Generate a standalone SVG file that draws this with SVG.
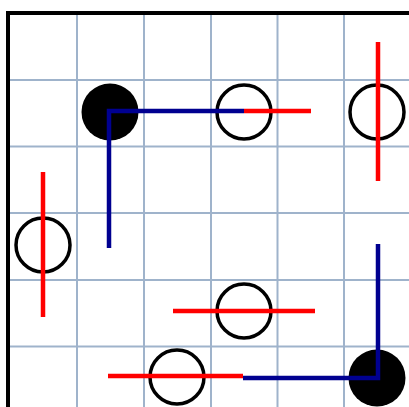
<svg xmlns="http://www.w3.org/2000/svg" width="409" height="407" viewBox="0 0 409 407">
<style>
.grid{stroke:#9fb3cb;stroke-width:2;fill:none}
.frame{stroke:#000;stroke-width:4;fill:none}
.open{fill:none;stroke:#000;stroke-width:3.5}
.solid{fill:#000}
.red{stroke:#ff0000;stroke-width:4.5;fill:none}
.blue{stroke:#000090;stroke-width:4.5;fill:none;stroke-linejoin:miter}
</style>
<rect width="409" height="407" fill="#fff"/>
<g id="grid">
<path class="grid" d="M77,13V407M144,13V407M211,13V407M277.5,13V407M344,13V407M8,80H409M8,146.5H409M8,213H409M8,280H409M8,346.5H409"/>
<path class="frame" d="M8,407V13H409"/>
</g>
<g id="n1"><circle class="solid" cx="110" cy="112" r="28.5"/></g>
<g id="n2"><circle class="open" cx="244" cy="112" r="27"/></g>
<g id="n3"><circle class="open" cx="377" cy="112" r="27"/></g>
<g id="n4"><circle class="open" cx="43" cy="245" r="27"/></g>
<g id="n5"><circle class="open" cx="244" cy="311" r="27"/></g>
<g id="n6"><circle class="open" cx="177" cy="377" r="27"/></g>
<g id="n7"><circle class="solid" cx="377" cy="378" r="28.5"/></g>
<g id="connectors">
<path class="blue" d="M109,248V111H244"/>
<path class="red" d="M244,111H311"/>
<path class="red" d="M378,42V181"/>
<path class="red" d="M43,172V317"/>
<path class="red" d="M173,311H315"/>
<path class="red" d="M108,376H243"/>
<path class="blue" d="M243,378H378V244"/>
</g>
</svg>
